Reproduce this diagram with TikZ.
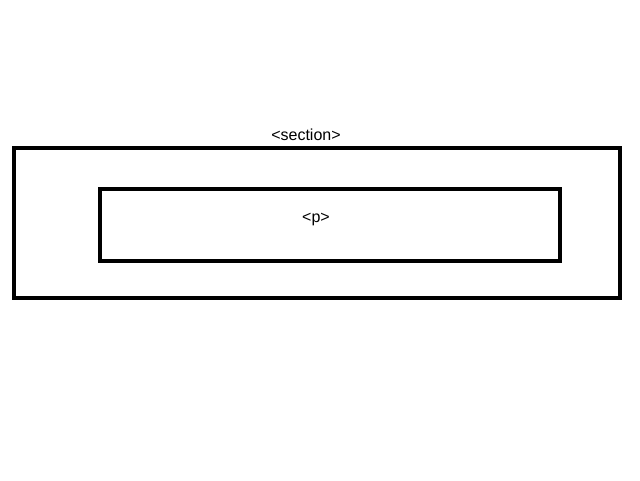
\documentclass[tikz,border=0pt]{standalone}
\usepackage{fontspec}
\setmainfont{Liberation Sans}
\begin{document}
\begin{tikzpicture}[x=0.75pt, y=-0.75pt, every node/.style={font=\fontsize{12}{14}\selectfont}]
    \useasboundingbox (0,0) rectangle (640,480);
    % Boxes
    \node[draw, line width=3pt, minimum width=454.5pt, minimum height=112.5pt, inner sep=0pt] (section) at (317,223) {};
    \node[draw, line width=3pt, minimum width=345pt, minimum height=54.5pt, inner sep=0pt] (para) at (330,225) {};

    % Labels
    \node (sectionlabel) at (306,135) {<section>};
    \node (paralabel) at (316,219) {<p>};
  \end{tikzpicture}
\end{document}
